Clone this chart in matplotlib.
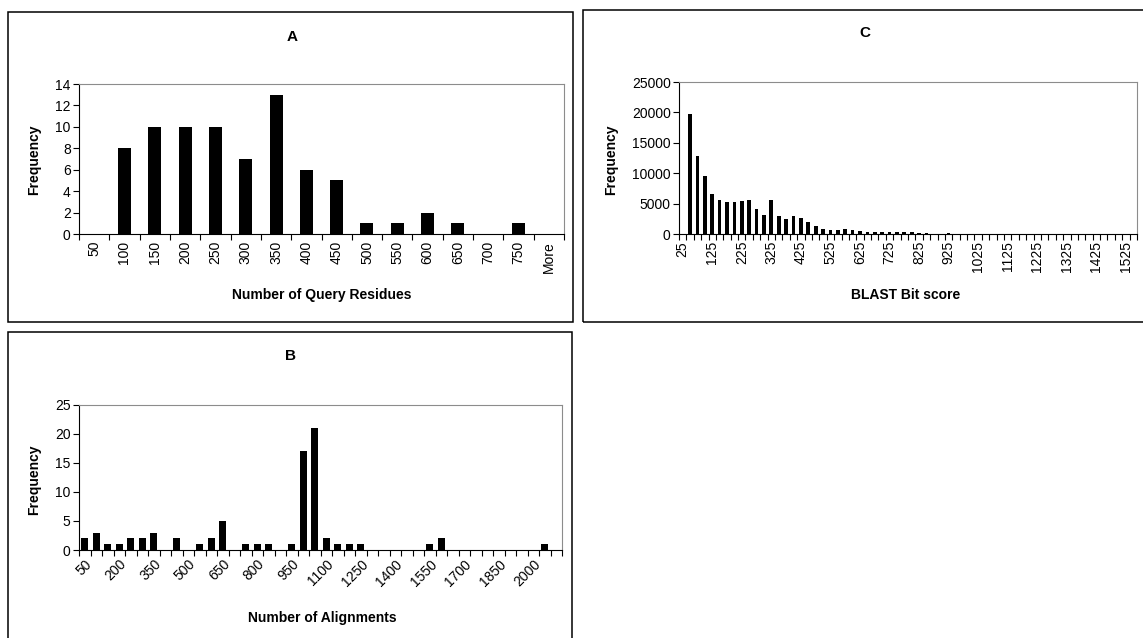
import numpy as np
import matplotlib
matplotlib.use("Agg")
import matplotlib.pyplot as plt
from matplotlib.patches import Rectangle

plt.rcParams['font.family'] = ['Liberation Sans', 'DejaVu Sans']

W, H = 1143, 638

# --- data -------------------------------------------------------------
residue_bins = ['50', '100', '150', '200', '250', '300', '350', '400', '450',
                '500', '550', '600', '650', '700', '750', 'More']
residue_freq = [0, 8, 10, 10, 10, 7, 13, 6, 5, 1, 1, 2, 1, 0, 1, 0]

align_bins = [str(v) for v in range(50, 2100, 50)] + ['More']
align_freq = [2, 3, 1, 1, 2, 2, 3, 0, 2, 0,
              1, 2, 5, 0, 1, 1, 1, 0, 1, 17,
              21, 2, 1, 1, 1, 0, 0, 0, 0, 0,
              1, 2, 0, 0, 0, 0, 0, 0, 0, 0,
              1, 0]

bitscore_bins = [str(v) for v in range(25, 1550, 25)] + ['More']
bitscore_freq = [0, 19700, 12800, 9500, 6650, 5650, 5300, 5300, 5450, 5650,
                 4100, 3150, 5650, 2950, 2400, 2950, 2550, 2000, 1250, 850,
                 700, 700, 850, 650, 500, 400, 300, 400, 300, 400,
                 250, 250, 200, 200, 0, 0, 150, 0, 0, 0,
                 0, 0, 0, 0, 0, 0, 0, 0, 0, 0,
                 0, 0, 0, 0, 0, 0, 0, 0, 0, 0,
                 0, 0]


def fx(px):
    return px / W


def fy(py):
    return 1 - py / H


def axes_px(fig, left, top, right, bottom):
    return fig.add_axes([fx(left), fy(bottom), (right - left) / W, (bottom - top) / H])


def hist_panel(ax, labels, values, width, ymax, ystep, every, rot):
    n = len(values)
    x = np.arange(n)
    ax.bar(x, values, width=width, color='black', align='center', zorder=3)
    ax.set_xlim(-0.5, n - 0.5)
    ax.set_ylim(0, ymax)
    ax.set_yticks(np.arange(0, ymax + 1, ystep))
    shown = x[::every]
    ax.set_xticks(shown)
    if rot == 90:
        ax.set_xticklabels([labels[i] for i in shown], rotation=90, fontsize=10)
    else:
        ax.set_xticklabels([labels[i] for i in shown], rotation=45, ha='right',
                           rotation_mode='anchor', fontsize=10)
    ax.set_xticks(np.arange(n + 1) - 0.5, minor=True)
    ax.tick_params(axis='x', which='major', length=0, pad=5)
    ax.tick_params(axis='x', which='minor', length=4, width=0.8, direction='out')
    ax.tick_params(axis='y', length=4, width=0.8, direction='out', labelsize=10, pad=2)
    for s in ['top', 'right']:
        ax.spines[s].set_color('#8c8c8c')
        ax.spines[s].set_linewidth(0.8)
    for s in ['left', 'bottom']:
        ax.spines[s].set_color('black')
        ax.spines[s].set_linewidth(0.8)


fig = plt.figure(figsize=(W / 100, H / 100), dpi=100)

# chart area borders
for (l, t, r, b) in [(8, 12, 573, 322), (583, 10, 1152, 322), (8, 332, 572, 650)]:
    fig.patches.append(Rectangle((fx(l), fy(b)), (r - l) / W, (b - t) / H,
                                 transform=fig.transFigure, fill=False,
                                 edgecolor='black', linewidth=1.1))

# panel A
axA = axes_px(fig, 79, 84, 564, 234)
hist_panel(axA, residue_bins, residue_freq, 0.43, 14, 2, 1, 90)
fig.text(fx(292), fy(37), 'A', ha='center', va='center', fontsize=11, fontweight='bold')
fig.text(fx(322), fy(295), 'Number of Query Residues', ha='center', va='center',
         fontsize=10, fontweight='bold')
fig.text(fx(34), fy(160), 'Frequency', ha='center', va='center', rotation=90,
         fontsize=10, fontweight='bold')

# panel B
axB = axes_px(fig, 79, 405, 562, 550)
hist_panel(axB, align_bins, align_freq, 0.6, 25, 5, 3, 45)
fig.text(fx(291), fy(356), 'B', ha='center', va='center', fontsize=11, fontweight='bold')
fig.text(fx(322), fy(618), 'Number of Alignments', ha='center', va='center',
         fontsize=10, fontweight='bold')
fig.text(fx(34), fy(480), 'Frequency', ha='center', va='center', rotation=90,
         fontsize=10, fontweight='bold')

# panel C
axC = axes_px(fig, 679, 82, 1137, 234)
hist_panel(axC, bitscore_bins, bitscore_freq, 0.5, 25000, 5000, 4, 90)
fig.text(fx(865), fy(33), 'C', ha='center', va='center', fontsize=11, fontweight='bold')
fig.text(fx(906), fy(295), 'BLAST Bit score', ha='center', va='center',
         fontsize=10, fontweight='bold')
fig.text(fx(611), fy(160), 'Frequency', ha='center', va='center', rotation=90,
         fontsize=10, fontweight='bold')

fig.savefig('out.png', dpi=100)
